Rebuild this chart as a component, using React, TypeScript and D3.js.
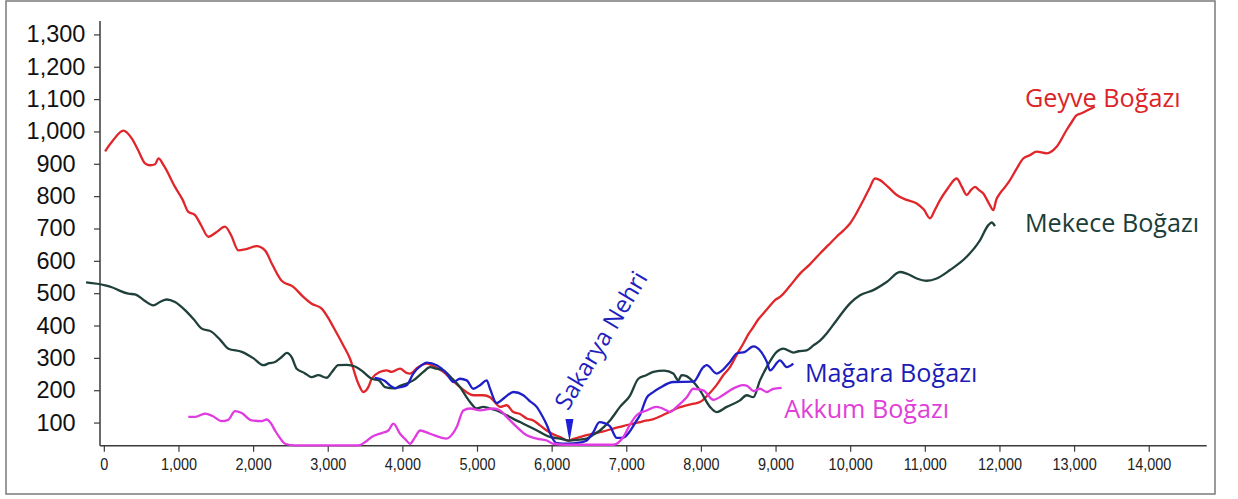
import React from "react";
import * as d3 from "d3";

const W = 1238;
const H = 499;

const xTicks = [0, 1000, 2000, 3000, 4000, 5000, 6000, 7000, 8000, 9000, 10000, 11000, 12000, 13000, 14000];
const yTicks = [100, 200, 300, 400, 500, 600, 700, 800, 900, 1000, 1100, 1200, 1300];

const geyve: [number, number][] = [[10,940],[120,975],[255,1004],[367,980],[450,945],[545,903],[614,897],[680,900],[724,918],[800,895],[947,830],[1050,790],[1125,753],[1215,743],[1300,710],[1393,676],[1500,690],[1617,707],[1700,680],[1795,634],[1900,638],[2041,647],[2153,634],[2250,590],[2376,540],[2532,521],[2666,490],[2778,469],[2912,454],[3000,425],[3068,397],[3202,340],[3292,299],[3403,222],[3470,196],[3537,211],[3582,237],[3690,258],[3783,263],[3850,258],[3962,268],[4050,255],[4096,253],[4200,272],[4320,284],[4420,275],[4542,258],[4650,235],[4766,211],[4850,196],[4944,186],[5078,186],[5168,180],[5230,165],[5302,150],[5391,155],[5480,134],[5570,128],[5659,114],[5748,108],[5837,93],[5927,77],[6016,65],[6105,57],[6217,46],[6300,52],[6373,57],[6460,63],[6552,67],[6640,72],[6731,77],[6820,83],[6909,88],[7000,94],[7088,98],[7177,103],[7270,108],[7356,112],[7460,122],[7579,135],[7700,148],[7803,155],[7900,160],[7981,165],[8100,190],[8205,218],[8300,250],[8383,273],[8470,310],[8562,346],[8630,375],[8696,397],[8760,420],[8830,439],[8910,460],[8986,480],[9053,490],[9190,525],[9321,562],[9450,590],[9589,624],[9700,650],[9812,676],[9900,695],[9991,717],[10080,750],[10170,789],[10250,825],[10326,856],[10393,851],[10500,830],[10617,805],[10750,790],[10885,779],[10980,760],[11063,733],[11130,760],[11197,789],[11300,825],[11420,856],[11490,830],[11554,805],[11610,820],[11666,830],[11720,820],[11777,810],[11850,780],[11911,758],[11950,790],[12000,810],[12070,830],[12134,851],[12220,885],[12312,918],[12400,928],[12491,939],[12625,934],[12759,954],[12893,1006],[12960,1030],[13027,1052],[13093,1058],[13180,1068],[13270,1078]];

const mekece: [number, number][] = [[-245,535],[10,526],[100,520],[188,511],[322,500],[411,498],[530,480],[657,464],[750,475],[836,482],[947,474],[1081,449],[1200,420],[1305,392],[1439,382],[1550,358],[1662,330],[1841,320],[2000,300],[2130,279],[2210,285],[2287,289],[2380,305],[2444,317],[2510,304],[2577,268],[2680,255],[2778,242],[2867,248],[2979,240],[3050,258],[3135,279],[3250,280],[3359,275],[3470,258],[3582,237],[3680,232],[3760,211],[3890,207],[3962,215],[4051,222],[4140,232],[4274,258],[4364,273],[4450,268],[4542,263],[4650,240],[4766,211],[4840,185],[4900,165],[4989,145],[5078,150],[5150,146],[5257,139],[5391,124],[5480,113],[5569,103],[5704,88],[5837,72],[5971,57],[6105,52],[6217,46],[6340,48],[6463,52],[6560,65],[6641,77],[6775,108],[6909,150],[7043,185],[7155,237],[7260,248],[7356,258],[7500,262],[7623,253],[7690,232],[7735,248],[7800,245],[7847,237],[7981,201],[8115,150],[8205,134],[8339,150],[8517,170],[8606,186],[8696,180],[8785,232],[8875,273],[9009,320],[9097,330],[9231,318],[9300,322],[9410,325],[9500,340],[9589,355],[9678,377],[9812,418],[9991,470],[10125,495],[10303,511],[10482,536],[10661,567],[10750,562],[10885,547],[11019,540],[11152,547],[11330,573],[11554,614],[11732,665],[11844,712],[11889,720],[11933,709]];

const magara: [number, number][] = [[3620,240],[3690,237],[3760,230],[3823,217],[3900,208],[3962,211],[4051,217],[4140,253],[4252,279],[4320,287],[4453,279],[4587,253],[4676,227],[4766,237],[4855,232],[4944,206],[5033,217],[5123,232],[5168,206],[5257,162],[5369,180],[5480,196],[5614,186],[5700,168],[5793,150],[5860,125],[5927,95],[5994,57],[6061,38],[6200,36],[6380,40],[6463,46],[6552,72],[6634,103],[6700,100],[6775,90],[6865,54],[6954,55],[7043,75],[7110,100],[7177,125],[7266,178],[7350,195],[7450,210],[7623,227],[7892,228],[8026,273],[8071,279],[8205,253],[8383,289],[8473,315],[8584,320],[8696,337],[8800,320],[8875,290],[8919,263],[9053,294],[9142,273],[9231,284]];

const akkum: [number, number][] = [[1125,119],[1215,119],[1349,129],[1450,122],[1573,106],[1660,110],[1751,137],[1841,131],[1975,108],[2109,106],[2176,111],[2230,100],[2287,77],[2350,55],[2421,36],[2555,31],[3000,31],[3403,31],[3500,42],[3582,57],[3716,69],[3805,77],[3873,98],[3962,67],[4040,48],[4096,36],[4160,55],[4230,77],[4364,67],[4587,52],[4660,65],[4721,88],[4810,139],[4900,145],[5033,139],[5212,145],[5302,139],[5391,119],[5525,88],[5659,62],[5793,52],[5927,46],[6016,36],[6200,33],[6500,33],[6820,33],[6954,57],[7043,95],[7132,124],[7266,139],[7400,150],[7534,139],[7579,134],[7668,150],[7803,180],[7892,206],[8026,201],[8160,172],[8280,185],[8383,201],[8562,217],[8620,214],[8696,199],[8785,206],[8875,196],[8963,206],[9075,209]];

const seriesNames = ["Geyve Boğazı", "Mekece Boğazı", "Mağara Boğazı", "Akkum Boğazı"];
const seriesData = [geyve, mekece, magara, akkum];
const lineColors = ["#e0262a", "#1f403b", "#1f1fc8", "#e03be0"];
const labelColors = ["#dc2428", "#1b3d38", "#1c1cb8", "#e03fd8"];
// label anchor positions in data units
const labelPos: [number, number][] = [[12335, 1077], [12335, 691], [9387, 228], [9110, 115]];

const riverName = "Sakarya Nehri";
const riverPoint: [number, number] = [6232, 43];

export default function App() {
  const x = d3.scaleLinear().domain([-58, 14770]).range([100, 1206.7]);
  const y = d3.scaleLinear().domain([30, 1343]).range([445.7, 21]);
  const line = d3
    .line<[number, number]>()
    .x(d => x(d[0]))
    .y(d => y(d[1]))
    .curve(d3.curveMonotoneX);

  const axisColor = "#3a3a3a";
  const rx = x(riverPoint[0]);
  const ry = y(riverPoint[1]);

  return (
    <svg width={W} height={H} style={{ position: "absolute", left: 0, top: 0, background: "#fff" }}>
      <rect x={6} y={1} width={1209} height={493} fill="#fff" stroke="#7a7a7a" strokeWidth={1.5} />
      {/* axes */}
      <line x1={x.range()[0]} x2={x.range()[0]} y1={y.range()[1]} y2={y.range()[0]} stroke={axisColor} strokeWidth={1.5} />
      <line x1={x.range()[0]} x2={x.range()[1]} y1={y.range()[0]} y2={y.range()[0]} stroke={axisColor} strokeWidth={1.5} />
      {yTicks.map(t => (
        <g key={"y" + t}>
          <line x1={x.range()[0] - 6} x2={x.range()[0]} y1={y(t)} y2={y(t)} stroke={axisColor} strokeWidth={1.2} />
          <text x={56} y={y(t) + 7.5} textAnchor="middle" fontFamily="'Liberation Sans', Arial, sans-serif" fontSize={23.5} fill="#111">
            {d3.format(",")(t)}
          </text>
        </g>
      ))}
      {xTicks.map(t => (
        <g key={"x" + t}>
          <line x1={x(t)} x2={x(t)} y1={y.range()[0]} y2={y.range()[0] + 6} stroke={axisColor} strokeWidth={1.2} />
          <text transform={`translate(${x(t)},${470}) scale(0.85,1)`} textAnchor="middle" fontFamily="'Liberation Sans', Arial, sans-serif" fontSize={17} fill="#222">
            {d3.format(",")(t)}
          </text>
        </g>
      ))}
      {/* lines */}
      {seriesData.map((s, i) => (
        <path key={seriesNames[i]} d={line(s) || ""} fill="none" stroke={lineColors[i]} strokeWidth={2.3} strokeLinejoin="round" />
      ))}
      {/* labels */}
      {seriesNames.map((n, i) => (
        <text key={"l" + n} x={x(labelPos[i][0])} y={y(labelPos[i][1])} fontFamily="'Open Sans', sans-serif" fontSize={25.2} fill={labelColors[i]}>
          {n}
        </text>
      ))}
      {/* river marker */}
      <path d={`M${rx - 4},${ry - 22.5} L${rx + 4},${ry - 22.5} L${rx},${ry} Z`} fill="#1f1fd8" />
      <text transform={`translate(${rx - 1.5},${ry - 30}) rotate(-59)`} fontFamily="'Open Sans', sans-serif" fontSize={24} fill="#1f1fc0">
        {riverName}
      </text>
    </svg>
  );
}
